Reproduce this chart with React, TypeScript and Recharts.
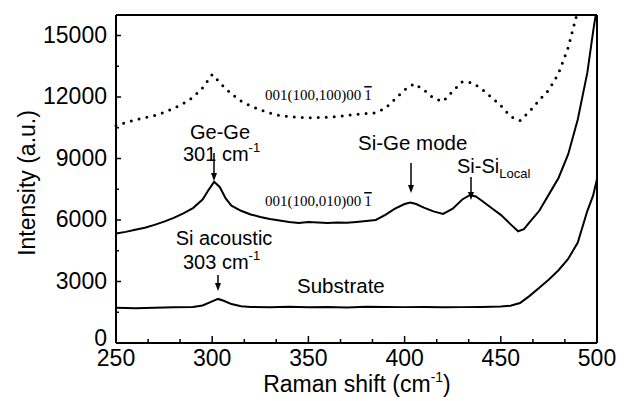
import { LineChart, Line, XAxis, YAxis, ReferenceLine } from 'recharts'

// x positions (cm-1) and intensities
const dottedX = [250, 255, 260, 265, 270, 275, 280, 285, 290, 295, 300, 305, 310, 315, 320, 325, 330, 335, 340, 345, 350, 355, 360, 365, 370, 375, 380, 385, 390, 395, 400, 405, 410, 415, 420, 425, 430, 435, 440, 445, 450, 455, 460, 465, 470, 475, 480, 485, 490, 495, 500]
const dottedY = [10600, 10750, 10880, 10990, 11100, 11250, 11450, 11680, 11980, 12450, 13100, 12600, 12150, 11800, 11560, 11380, 11220, 11100, 11050, 11000, 10990, 11000, 11020, 11050, 11100, 11150, 11200, 11230, 11450, 11900, 12350, 12650, 12350, 11950, 11780, 12280, 12750, 12700, 12400, 12000, 11580, 11050, 10850, 11300, 11850, 12350, 13150, 14400, 16200, 18500, 21000]

const middleX = [250, 255, 260, 265, 270, 275, 280, 285, 290, 295, 298, 301, 304, 307, 310, 315, 320, 325, 330, 335, 340, 345, 350, 355, 360, 365, 370, 375, 380, 385, 390, 395, 400, 403, 406, 410, 415, 420, 425, 430, 434, 437, 440, 445, 450, 455, 459, 462, 465, 470, 475, 480, 485, 490, 495, 498, 500]
const middleY = [5340, 5420, 5520, 5620, 5760, 5920, 6100, 6320, 6580, 7000, 7450, 7860, 7600, 7050, 6700, 6450, 6270, 6150, 6050, 5980, 5900, 5850, 5900, 5880, 5850, 5880, 5860, 5900, 5950, 6000, 6250, 6550, 6780, 6850, 6780, 6600, 6420, 6300, 6550, 7000, 7220, 7150, 6950, 6600, 6250, 5800, 5450, 5550, 5900, 6450, 7250, 8050, 9200, 10900, 13200, 15200, 16400]

const substrateX = [250, 260, 270, 280, 290, 295, 300, 303, 306, 310, 315, 320, 330, 340, 350, 360, 370, 380, 390, 400, 410, 420, 430, 440, 450, 455, 460, 465, 470, 475, 480, 485, 490, 495, 498, 500]
const substrateY = [1720, 1700, 1720, 1740, 1760, 1830, 2030, 2150, 2060, 1900, 1790, 1760, 1740, 1770, 1740, 1760, 1730, 1770, 1760, 1750, 1760, 1740, 1750, 1760, 1780, 1820, 1950, 2300, 2700, 3100, 3550, 4100, 4900, 6450, 7200, 8000]

const majorX = [250, 300, 350, 400, 450, 500]
const minorX = [266.7, 283.3, 316.7, 333.3, 366.7, 383.3, 416.7, 433.3, 466.7, 483.3]
const majorY = [0, 3000, 6000, 9000, 12000, 15000]
const minorY = [1500, 4500, 7500, 10500, 13500]

const toPoints = (xs: number[], ys: number[]) => xs.map((x, i) => ({ x, y: ys[i] }))

const dotted = toPoints(dottedX, dottedY)
const middle = toPoints(middleX, middleY)
const substrate = toPoints(substrateX, substrateY)

const XTick = (props: any) => {
  const { x, y, payload } = props
  const major = majorX.includes(payload.value)
  return (
    <g>
      <line x1={x} x2={x} y1={y} y2={y - (major ? 7 : 4)} stroke="#000" strokeWidth={1.5} />
      {major && (
        <text x={x} y={y + 23} textAnchor="middle" fontSize={23} fill="#000">
          {payload.value}
        </text>
      )}
    </g>
  )
}

const YTick = (props: any) => {
  const { x, y, payload } = props
  const major = majorY.includes(payload.value)
  // the zero label sits a little higher so it clears the x labels
  const dy = payload.value === 0 ? 3 : 7
  return (
    <g>
      <line x1={x} x2={x + (major ? 5 : 3)} y1={y} y2={y} stroke="#000" strokeWidth={1.5} />
      {major && (
        <text x={x - 9} y={y + dy} textAnchor="end" fontSize={23} fill="#000">
          {payload.value}
        </text>
      )}
    </g>
  )
}

const Arrow = ({ x, y1, y2 }: { x: number; y1: number; y2: number }) => (
  <g>
    <line x1={x} x2={x} y1={y1} y2={y2 - 6} stroke="#000" strokeWidth={1.5} />
    <polygon points={`${x - 3},${y2 - 8} ${x + 3},${y2 - 8} ${x},${y2}`} fill="#000" />
  </g>
)

const Miller = ({ x, y, mid }: { x: number; y: number; mid: string }) => (
  <text x={x} y={y} fontSize={15} fontFamily="'Liberation Serif', 'Times New Roman', serif" fill="#000">
    {`001(100,${mid})00`}
    <tspan dx={3} style={{ textDecoration: 'overline' }}>1</tspan>
  </text>
)

export default function App() {
  return (
    <div style={{ fontFamily: "'Liberation Sans', Arial, sans-serif", width: 618, height: 393 }}>
      <LineChart width={618} height={393} margin={{ top: 7, right: 29, left: 0, bottom: 0 }}>
        <XAxis
          dataKey="x"
          type="number"
          domain={[250, 500]}
          ticks={[...majorX, ...minorX].sort((a, b) => a - b)}
          interval={0}
          tick={<XTick />}
          tickLine={false}
          tickSize={0}
          tickMargin={0}
          height={58}
          axisLine={{ stroke: '#000', strokeWidth: 2 }}
        />
        <YAxis
          type="number"
          domain={[0, 16000]}
          allowDataOverflow
          ticks={[...majorY, ...minorY].sort((a, b) => a - b)}
          interval={0}
          tick={<YTick />}
          tickLine={false}
          tickSize={0}
          tickMargin={0}
          width={108}
          axisLine={{ stroke: '#000', strokeWidth: 2 }}
        />
        <ReferenceLine y={16000} stroke="#000" strokeWidth={2} />
        <ReferenceLine x={500} stroke="#000" strokeWidth={2} />
        <Line
          data={dotted}
          dataKey="y"
          type="linear"
          stroke="#000"
          strokeWidth={3}
          strokeDasharray="0 8"
          strokeLinecap="round"
          dot={false}
          isAnimationActive={false}
        />
        <Line data={middle} dataKey="y" type="linear" stroke="#000" strokeWidth={2} dot={false} isAnimationActive={false} />
        <Line data={substrate} dataKey="y" type="linear" stroke="#000" strokeWidth={2} dot={false} isAnimationActive={false} />

        <text x={19} y={175} transform="rotate(-90 19 175)" textAnchor="middle" dominantBaseline="central" fontSize={23} fill="#000">
          Intensity (a.u.)
        </text>
        <text x={349} y={384} textAnchor="middle" fontSize={23} fill="#000">
          Raman shift (cm<tspan dy={-10} fontSize={14}>-1</tspan><tspan dy={10}>)</tspan>
        </text>

        <Miller x={257} y={92} mid="100" />
        <Miller x={257} y={198} mid="010" />

        <text x={212} y={131} textAnchor="middle" fontSize={20} fill="#000">Ge-Ge</text>
        <text x={175} y={153} fontSize={20} fill="#000">
          301 cm<tspan dy={-9} fontSize={13}>-1</tspan>
        </text>
        <Arrow x={206} y1={145} y2={173} />

        <text x={216} y={237} textAnchor="middle" fontSize={20} fill="#000">Si acoustic</text>
        <text x={175} y={261} fontSize={20} fill="#000">
          303 cm<tspan dy={-9} fontSize={13}>-1</tspan>
        </text>
        <Arrow x={210} y1={267} y2={283} />

        <text x={289} y={285} fontSize={20.5} fill="#000">Substrate</text>

        <text x={350} y={142} fontSize={20.5} fill="#000">Si-Ge mode</text>
        <Arrow x={403} y1={155} y2={185} />

        <text x={449} y={165} fontSize={20} fill="#000">
          Si-Si<tspan dy={5} fontSize={13}>Local</tspan>
        </text>
        <Arrow x={463} y1={169} y2={192} />
      </LineChart>
    </div>
  )
}
